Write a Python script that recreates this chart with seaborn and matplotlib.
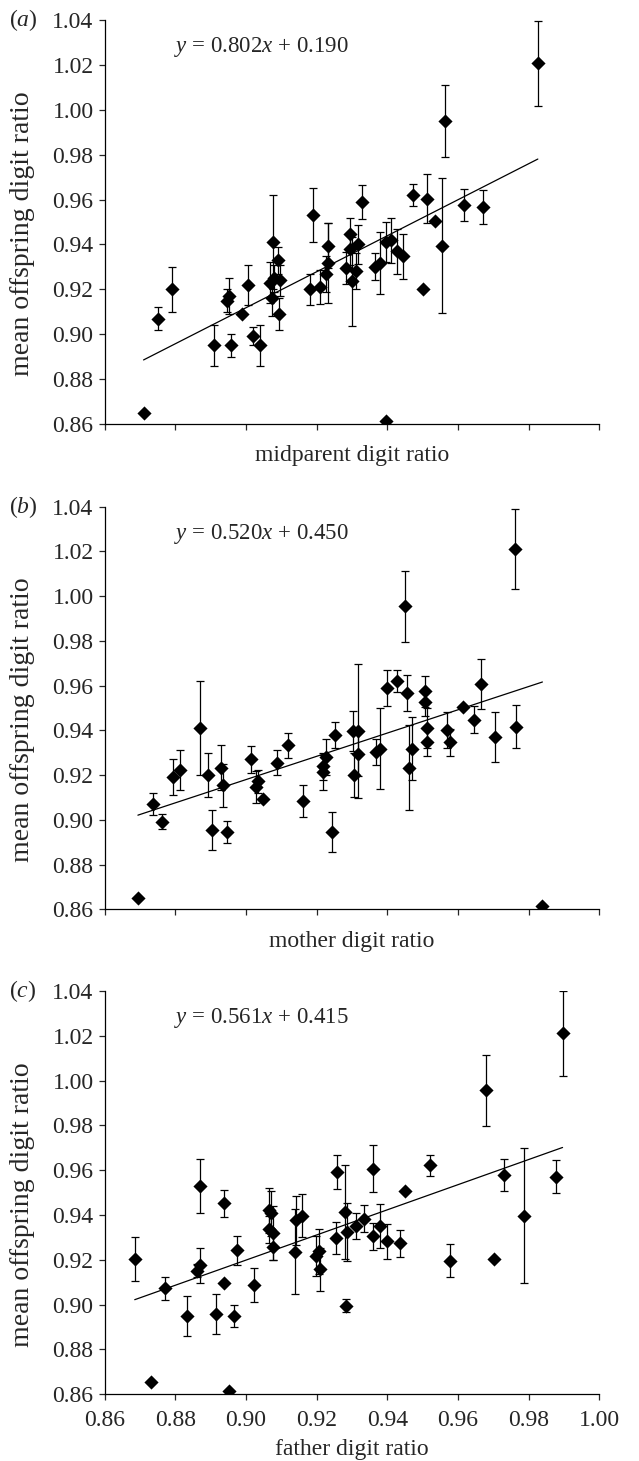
#!/usr/bin/env python3

import numpy as np
import pandas as pd
import seaborn as sns
import matplotlib
matplotlib.use("Agg")
import matplotlib.pyplot as plt

# panel (a): midparent
mid_x = [0.871, 0.875, 0.879, 0.891, 0.8946, 0.8951, 0.8957, 0.899, 0.9005, 0.902,
         0.904, 0.9068, 0.9073, 0.9075, 0.908, 0.909, 0.9096, 0.9094, 0.918, 0.919,
         0.921, 0.9227, 0.9232, 0.9232, 0.9282, 0.9293, 0.9293, 0.930, 0.9311, 0.9316,
         0.9329, 0.9365, 0.9379, 0.9396, 0.941, 0.9396, 0.9427, 0.9445, 0.9474, 0.9511,
         0.9535, 0.9502, 0.9554, 0.9563, 0.9617, 0.967, 0.9826]
mid_y = [0.865, 0.907, 0.920, 0.895, 0.915, 0.917, 0.895, 0.909, 0.922, 0.899,
         0.895, 0.923, 0.916, 0.941, 0.925, 0.933, 0.924, 0.909, 0.920, 0.953,
         0.921, 0.927, 0.9395, 0.9317, 0.9295, 0.9447, 0.938, 0.9235, 0.928, 0.940,
         0.959, 0.930, 0.9317, 0.941, 0.9418, 0.8615, 0.937, 0.9347, 0.962, 0.9604,
         0.9503, 0.920, 0.9395, 0.995, 0.9575, 0.9567, 1.0207]
mid_err = [0, 0.005, 0.010, 0.009, 0.005, 0.008, 0.005, 0, 0.009, 0.004,
           0.009, 0.009, 0.008, 0.021, 0.006, 0.006, 0.007, 0.007, 0.007, 0.012,
           0.0075, 0.008, 0.010, 0.018, 0.007, 0.007, 0.007, 0.020, 0.008, 0.0085,
           0.0075, 0.006, 0.014, 0.009, 0.010, 0, 0.010, 0.010, 0.005, 0.011,
           0, 0, 0.030, 0.016, 0.007, 0.0075, 0.019]

# panel (b): mother
mot_x = [0.8694, 0.8738, 0.8761, 0.8794, 0.8813, 0.887, 0.8893, 0.8905, 0.8928, 0.8936,
         0.8947, 0.9013, 0.9028, 0.9035, 0.9049, 0.9089, 0.9118, 0.916, 0.9217, 0.9219,
         0.9226, 0.9243, 0.9252, 0.9304, 0.9318, 0.9306, 0.9318, 0.9368, 0.9379, 0.9398,
         0.9426, 0.945, 0.9455, 0.946, 0.9469, 0.9507, 0.9507, 0.9511, 0.9511, 0.9568,
         0.9577, 0.9615, 0.9645, 0.9665, 0.9706, 0.9763, 0.976, 0.9839]
mot_y = [0.8652, 0.907, 0.8992, 0.9191, 0.9224, 0.941, 0.920, 0.8954, 0.9233, 0.9154,
         0.8946, 0.927, 0.9147, 0.9172, 0.9092, 0.9255, 0.9333, 0.9084, 0.9212, 0.9239,
         0.928, 0.8946, 0.9379, 0.9396, 0.9396, 0.920, 0.9295, 0.9303, 0.9318, 0.959,
         0.962, 0.9954, 0.9567, 0.9233, 0.9318, 0.9575, 0.9526, 0.9411, 0.9347, 0.9402,
         0.9347, 0.9503, 0.9447, 0.9607, 0.937, 0.9417, 1.0211, 0.8615]
mot_err = [0, 0.005, 0.0034, 0.008, 0.009, 0.021, 0.010, 0.009, 0.010, 0.0097,
           0.005, 0.006, 0.007, 0.005, 0, 0.0055, 0.0055, 0.007, 0.008, 0.006,
           0.008, 0.009, 0.006, 0.009, 0.030, 0.010, 0.010, 0.006, 0.018, 0.008,
           0.005, 0.016, 0.008, 0.019, 0.014, 0.007, 0.006, 0.009, 0.006, 0.008,
           0.006, 0, 0.006, 0.011, 0.011, 0.0095, 0.018, 0]

# panel (c): father
fat_x = [0.8685, 0.8732, 0.8772, 0.8833, 0.886, 0.887, 0.887, 0.8916, 0.8938, 0.8938,
         0.8951, 0.8965, 0.8975, 0.9022, 0.9066, 0.907, 0.9066, 0.9077, 0.9077, 0.9138,
         0.9142, 0.9158, 0.9197, 0.9208, 0.921, 0.9258, 0.9255, 0.928, 0.9287, 0.9283,
         0.9311, 0.9335, 0.9359, 0.9359, 0.9379, 0.9398, 0.9436, 0.9449, 0.9521, 0.9576,
         0.9679, 0.9702, 0.9731, 0.9788, 0.9878, 0.9896]
fat_y = [0.9204, 0.8654, 0.9073, 0.8949, 0.9152, 0.9175, 0.953, 0.8958, 0.9096, 0.9452,
         0.8615, 0.8949, 0.9243, 0.9088, 0.9422, 0.9407, 0.9336, 0.932, 0.9258, 0.9237,
         0.9376, 0.9398, 0.9216, 0.9239, 0.9158, 0.9593, 0.9298, 0.9413, 0.9324, 0.8996,
         0.9351, 0.9384, 0.9607, 0.9306, 0.9351, 0.9282, 0.9275, 0.9507, 0.9622, 0.9197,
         0.9956, 0.9204, 0.9578, 0.9398, 0.9572, 1.0211]
fat_err = [0.010, 0, 0.005, 0.009, 0.003, 0.008, 0.012, 0.009, 0, 0.006,
           0, 0.005, 0.0065, 0.0075, 0.010, 0.010, 0.006, 0.012, 0.006, 0.019,
           0.011, 0.0095, 0.009, 0.010, 0.0095, 0.0075, 0.007, 0.021, 0.013, 0.003,
           0.006, 0.006, 0.0105, 0.006, 0.010, 0.008, 0.006, 0, 0.0046, 0.0074,
           0.016, 0, 0.007, 0.030, 0.0073, 0.019]

panels = [
    ("a", mid_x, mid_y, mid_err, 0.802, 0.190, "midparent digit ratio"),
    ("b", mot_x, mot_y, mot_err, 0.520, 0.450, "mother digit ratio"),
    ("c", fat_x, fat_y, fat_err, 0.561, 0.415, "father digit ratio"),
]

sns.set_style("ticks")
plt.rcParams["font.family"] = ["Liberation Serif", "DejaVu Serif"]
plt.rcParams["mathtext.fontset"] = "custom"
plt.rcParams["mathtext.rm"] = "Liberation Serif"
plt.rcParams["mathtext.it"] = "Liberation Serif:italic"

W, H = 639, 1461
fig = plt.figure(figsize=(W / 100, H / 100), dpi=100)
tops = [20, 506.7, 991]
bottoms = [424, 909.3, 1394.3]
left, right = 104.7, 599.3
fs = 17
xlab_y = [-0.079, -0.079, -0.136]

for i, (tag, xs, ys, errs, slope, icpt, xlabel) in enumerate(panels):
    ax = fig.add_axes([left / W, 1 - bottoms[i] / H, (right - left) / W,
                       (bottoms[i] - tops[i]) / H])
    df = pd.DataFrame({"x": xs, "y": ys, "err": errs})
    ax.errorbar(df["x"], df["y"], yerr=df["err"], fmt="none", ecolor="black",
                elinewidth=0.9, capsize=2.7, capthick=0.9, zorder=2)
    sns.scatterplot(data=df, x="x", y="y", marker="D", s=52, color="black",
                    edgecolor="black", linewidth=0, ax=ax, zorder=3)
    line = pd.DataFrame({"x": [min(xs), max(xs)]})
    line["y"] = slope * line["x"] + icpt
    sns.lineplot(data=line, x="x", y="y", color="black", linewidth=0.9, ax=ax, zorder=1)

    ax.set_xlim(0.86, 1.00)
    ax.set_ylim(0.86, 1.04)
    ax.set_yticks(np.arange(0.86, 1.041, 0.02))
    ax.set_xticks(np.arange(0.86, 1.001, 0.02))
    ax.yaxis.set_major_formatter(plt.FormatStrFormatter("%.2f"))
    ax.xaxis.set_major_formatter(plt.FormatStrFormatter("%.2f"))
    ax.tick_params(direction="out", length=4, width=0.9, labelsize=fs)
    ax.tick_params(axis="y", pad=4)
    ax.tick_params(axis="x", pad=7)
    if i < 2:
        ax.tick_params(axis="x", labelbottom=False)
    sns.despine(ax=ax)
    for s in ("left", "bottom"):
        ax.spines[s].set_linewidth(0.9)
        ax.spines[s].set_color("black")
    ax.set_ylabel("mean offspring digit ratio", fontsize=20)
    ax.yaxis.set_label_coords(-0.167, 0.47)
    ax.yaxis.label.set_va("center")
    ax.set_xlabel(xlabel, fontsize=fs)
    ax.xaxis.set_label_coords(0.5, xlab_y[i])
    ax.xaxis.label.set_va("center")
    ax.text(0.8795, 1.028, r"$y$ = %.3f$x$ + %.3f" % (slope, icpt),
            fontsize=16.5, va="center", ha="left")
    fig.text(9 / W, 1 - tops[i] / H, r"($\it{%s}$)" % tag, fontsize=fs,
             va="center", ha="left")

fig.savefig("out.png", dpi=100, facecolor="white")
plt.close(fig)
